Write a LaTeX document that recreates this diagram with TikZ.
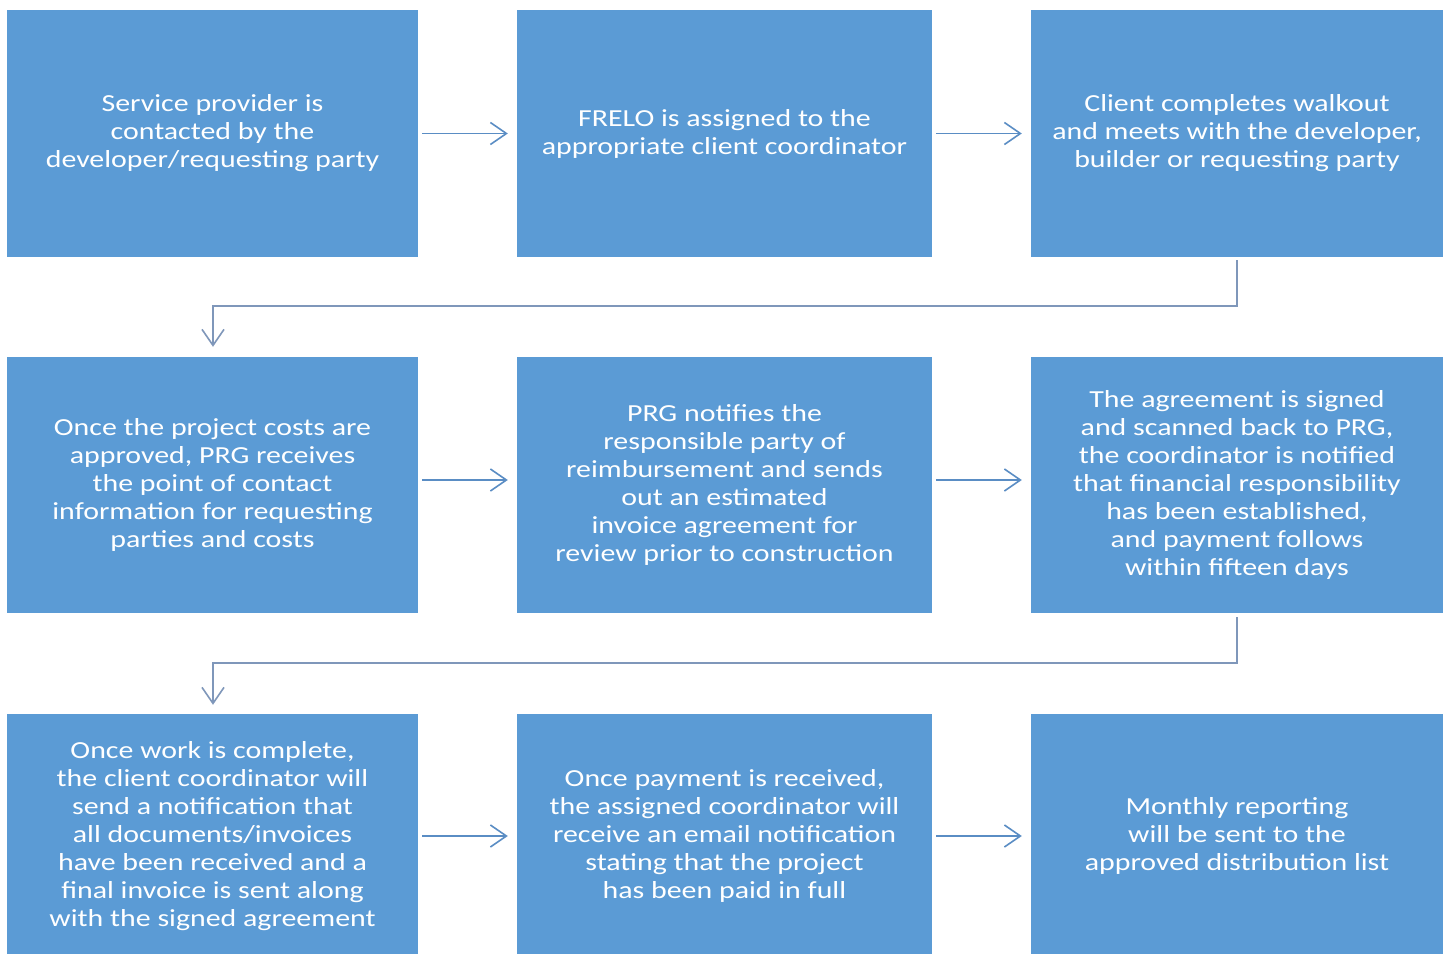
\documentclass[tikz,border=0pt]{standalone}
\usepackage{fontspec}
\setmainfont{Carlito}[FakeStretch=1.22]
\usetikzlibrary{arrows.meta}
\definecolor{boxblue}{HTML}{5B9BD5}
\definecolor{arrblue}{HTML}{5A8DC4}
\definecolor{elbow}{HTML}{7F97BA}
\tikzset{
  stepbox/.style={draw=none, fill=boxblue, text=white, align=center, inner sep=0pt,
    font=\fontsize{24.5}{28}\selectfont},
  flow/.style={draw=arrblue, line width=1.6pt, -{Straight Barb[length=16pt,width=22pt,line width=1.6pt]},
    shorten <=4pt, shorten >=9pt},
  turn/.style={draw=elbow, line width=1.6pt, -{Straight Barb[length=16pt,width=22pt,line width=1.6pt]}},
}
\begin{document}
\begin{tikzpicture}[x=1pt,y=-1pt]
\useasboundingbox (0,0) rectangle (1448,953);
\clip (0,0) rectangle (1448,953);
\fill[white] (0,0) rectangle (1448,953);
% row 1
\node[stepbox, minimum width=411pt, minimum height=247pt] (b1) at (212.5,133.5)
  {Service provider is\\contacted by the\\developer/requesting party};
\node[stepbox, minimum width=415pt, minimum height=247pt] (b2) at (724.5,133.5)
  {FRELO is assigned to the\\appropriate client coordinator};
\node[stepbox, minimum width=412pt, minimum height=247pt] (b3) at (1237,133.5)
  {Client completes walkout\\and meets with the developer,\\builder or requesting party};
% row 2
\node[stepbox, minimum width=411pt, minimum height=256pt] (b4) at (212.5,485)
  {Once the project costs are\\approved, PRG receives\\the point of contact\\information for requesting\\parties and costs};
\node[stepbox, minimum width=415pt, minimum height=256pt] (b5) at (724.5,485)
  {PRG notifies the\\responsible party of\\reimbursement and sends\\out an estimated\\invoice agreement for\\review prior to construction};
\node[stepbox, minimum width=412pt, minimum height=256pt] (b6) at (1237,485)
  {The agreement is signed\\and scanned back to PRG,\\the coordinator is notified\\that financial responsibility\\has been established,\\and payment follows\\within fifteen days};
% row 3
\node[stepbox, minimum width=411pt, minimum height=244pt] (b7) at (212.5,836)
  {Once work is complete,\\the client coordinator will\\send a notification that\\all documents/invoices\\have been received and a\\final invoice is sent along\\with the signed agreement};
\node[stepbox, minimum width=415pt, minimum height=244pt] (b8) at (724.5,836)
  {Once payment is received,\\the assigned coordinator will\\receive an email notification\\stating that the project\\has been paid in full};
\node[stepbox, minimum width=412pt, minimum height=244pt] (b9) at (1237,836)
  {Monthly reporting\\will be sent to the\\approved distribution list};
% horizontal arrows
\draw[flow] (b1.east) -- (b2.west);
\draw[flow] (b2.east) -- (b3.west);
\draw[flow] ([yshift=5pt]b4.east) -- ([yshift=5pt]b5.west);
\draw[flow] ([yshift=5pt]b5.east) -- ([yshift=5pt]b6.west);
\draw[flow] (b7.east) -- (b8.west);
\draw[flow] (b8.east) -- (b9.west);
% elbow connectors
\coordinate (t1) at ([yshift=-3pt]b3.south);
\draw[turn, shorten >=10pt] (t1) |- (213,306) -- ([xshift=0.5pt]b4.north);
\coordinate (t2) at ([yshift=-4pt]b6.south);
\draw[turn, shorten >=9pt] (t2) |- (213,663) -- ([xshift=0.5pt]b7.north);
\end{tikzpicture}
\end{document}
